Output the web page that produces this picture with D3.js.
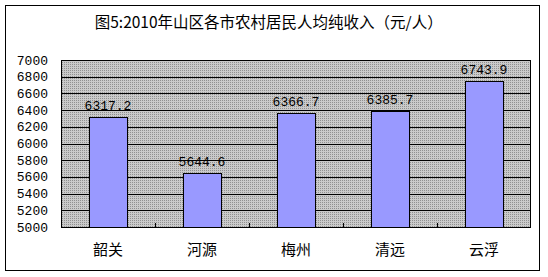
<!DOCTYPE html>
<html><head><meta charset="utf-8">
<script src="https://cdn.jsdelivr.net/npm/d3@7"></script>
<style>body{margin:0;background:#fff}svg{display:block}</style>
</head><body>
<script>
const categories = ["韶关","河源","梅州","清远","云浮"];
const values = [6317.2, 5644.6, 6366.7, 6385.7, 6743.9];
const yTicks = [5000,5200,5400,5600,5800,6000,6200,6400,6600,6800,7000];
const title = "图5:2010年山区各市农村居民人均纯收入（元/人）";

const W=548,H=277;
const svg=d3.select("body").append("svg").attr("width",W).attr("height",H);
const defs=svg.append("defs");
const pat=defs.append("pattern").attr("id","dots").attr("width",2).attr("height",2).attr("patternUnits","userSpaceOnUse");
pat.append("rect").attr("width",2).attr("height",2).attr("fill","#cacaca");
pat.append("rect").attr("width",1).attr("height",1).attr("fill","#909090");

svg.append("rect").attr("x",5.5).attr("y",5.5).attr("width",534).attr("height",265)
  .attr("fill","#fff").attr("stroke","#000");

const L=61,R=531,T=60,B=227;
const x=d3.scaleBand().domain(categories).range([L,R]).paddingInner(0.6).paddingOuter(0.3);
const y=d3.scaleLinear().domain([5000,7000]).range([B,T]);

svg.append("rect").attr("x",L).attr("y",T).attr("width",R-L).attr("height",B-T).attr("fill","url(#dots)");

svg.append("g").selectAll("line").data(yTicks).join("line")
  .attr("x1",L).attr("x2",R).attr("y1",d=>Math.round(y(d))+0.5).attr("y2",d=>Math.round(y(d))+0.5)
  .attr("stroke","#000");

svg.append("rect").attr("x",L+0.5).attr("y",T+0.5).attr("width",R-L-1).attr("height",B-T)
  .attr("fill","none").attr("stroke","#000");

const step=x.step();
svg.append("g").selectAll("line").data(categories.slice(1)).join("line")
  .attr("x1",d=>Math.round(x(d)-step*x.paddingInner()/2)+0.5)
  .attr("x2",d=>Math.round(x(d)-step*x.paddingInner()/2)+0.5)
  .attr("y1",B).attr("y2",B-4).attr("stroke","#000");

svg.append("g").selectAll("rect").data(values).join("rect")
  .attr("x",(d,i)=>Math.round(x(categories[i]))+0.5)
  .attr("y",d=>Math.round(y(d))+0.5)
  .attr("width",Math.round(x.bandwidth()))
  .attr("height",d=>Math.round(B-y(d)))
  .attr("fill","#9999ff").attr("stroke","#000");

svg.append("g").selectAll("text").data(values).join("text")
  .attr("x",(d,i)=>x(categories[i])+x.bandwidth()/2)
  .attr("y",d=>y(d)-7)
  .attr("text-anchor","middle")
  .attr("font-family","Liberation Mono, monospace").attr("font-size",13)
  .text(d=>d.toFixed(1));

svg.append("g").selectAll("text").data(yTicks).join("text")
  .attr("x",48).attr("y",d=>y(d)+4.5)
  .attr("text-anchor","end")
  .attr("font-family","Liberation Mono, monospace").attr("font-size",13)
  .text(d=>d);

svg.append("g").selectAll("text").data(categories).join("text")
  .attr("x",d=>x(d)+x.bandwidth()/2)
  .attr("y",255)
  .attr("text-anchor","middle")
  .attr("font-family","Noto Sans CJK SC").attr("font-size",15)
  .text(d=>d);

svg.append("text").attr("x",268.7).attr("y",28)
  .attr("text-anchor","middle")
  .attr("font-family","Noto Sans CJK SC").attr("font-size",15.5)
  .text(title);
</script>
</body></html>
